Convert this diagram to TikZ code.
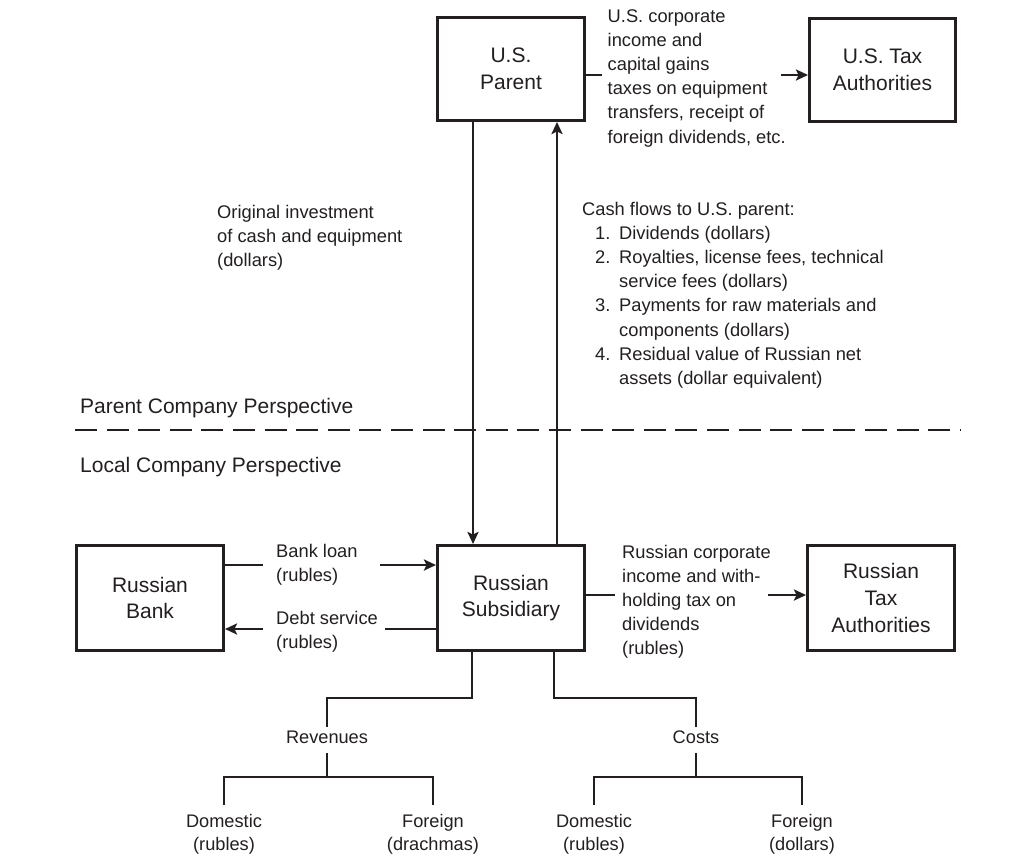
\documentclass[tikz,border=0pt]{standalone}
\usepackage{fontspec}
\setmainfont{Liberation Sans}
\usetikzlibrary{arrows.meta}
\definecolor{ink}{HTML}{231F20}
\begin{document}
\begin{tikzpicture}[x=1pt,y=-1pt,color=ink,
  box/.style={draw, line width=3pt, align=center, inner sep=0pt, font=\fontsize{21}{26.7}\selectfont},
  ln/.style={line width=2.5pt},
  arr/.style={ln, -{Stealth[length=12pt,width=11pt,inset=2.5pt]}},
  side/.style={anchor=base west, inner sep=0pt, font=\fontsize{18.3}{24.2}\selectfont},
  persp/.style={anchor=base west, inner sep=0pt, font=\fontsize{21}{26}\selectfont},
  tree/.style={align=center, inner sep=0pt, font=\fontsize{18.2}{23.5}\selectfont},
]
\fill[white] (0,0) rectangle (1017,865);
\useasboundingbox (0,0) rectangle (1017,865);

% boxes
\node[box, minimum width=147pt, minimum height=103pt] (parent) at (511,69) {U.S.\\Parent};
\node[box, minimum width=146pt, minimum height=103pt] (ustax) at (882.5,69.5) {U.S. Tax\\Authorities};
\node[box, minimum width=147pt, minimum height=105pt] (bank) at (150,598) {Russian\\Bank};
\node[box, minimum width=147pt, minimum height=105pt] (sub) at (511,598) {Russian\\Subsidiary};
\node[box, minimum width=147pt, minimum height=105pt] (rtax) at (881,598) {Russian\\Tax\\Authorities};

% side texts
\node[side] (ust) at (607.5,22) {\parbox[t]{200pt}{\raggedright U.S. corporate\\income and\\capital gains\\taxes on equipment\\transfers, receipt of\\foreign dividends, etc.}};
\node[side] (orig) at (217,218) {\parbox[t]{220pt}{\raggedright Original investment\\of cash and equipment\\(dollars)}};
\node[side] (cash) at (582,215) {\parbox[t]{330pt}{\raggedright Cash flows to U.S. parent:\\
\hspace*{13pt}\makebox[24pt][l]{1.}Dividends (dollars)\\
\hspace*{13pt}\makebox[24pt][l]{2.}Royalties, license fees, technical\\
\hspace*{37pt}service fees (dollars)\\
\hspace*{13pt}\makebox[24pt][l]{3.}Payments for raw materials and\\
\hspace*{37pt}components (dollars)\\
\hspace*{13pt}\makebox[24pt][l]{4.}Residual value of Russian net\\
\hspace*{37pt}assets (dollar equivalent)}};
\node[side] (rct) at (622,558) {\parbox[t]{200pt}{\raggedright Russian corporate\\income and with-\\holding tax on\\dividends\\(rubles)}};
\node[side] (loan) at (276,557.7) {\parbox[t]{120pt}{\raggedright Bank loan\\(rubles)}};
\node[side] (debt) at (276,624.3) {\parbox[t]{120pt}{\raggedright Debt service\\(rubles)}};

% perspectives
\node[persp] (pcp) at (80,413) {Parent Company Perspective};
\node[persp] (lcp) at (80,472) {Local Company Perspective};
\coordinate (dl) at (75,430);
\coordinate (dr) at (960,430);
\draw[ln, dash pattern=on 22pt off 9.6pt] (dl) -- (dr);

% parent <-> subsidiary
\coordinate (xd) at (473,0);
\coordinate (xu) at (557,0);
\draw[arr] (parent.south -| xd) -- (sub.north -| xd);
\draw[arr] (sub.north -| xu) -- (parent.south -| xu);

% tax flows
\coordinate (s1) at (602,75);
\coordinate (a1) at (781,75);
\draw[ln] (parent.east |- s1) -- (s1);
\draw[arr] (a1) -- (ustax.west |- a1);
\coordinate (s2) at (615,595);
\coordinate (a2) at (768,595);
\draw[ln] (sub.east |- s2) -- (s2);
\draw[arr] (a2) -- (rtax.west |- a2);

% bank flows
\coordinate (s3) at (263,565);
\coordinate (a3) at (380,565);
\draw[ln] (bank.east |- s3) -- (s3);
\draw[arr] (a3) -- (sub.west |- a3);
\coordinate (s4) at (385,629);
\coordinate (a4) at (263,629);
\draw[ln] (sub.west |- s4) -- (s4);
\draw[arr] (a4) -- (bank.east |- a4);

% tree
\node[tree, text height=13pt, text depth=7pt, inner ysep=3pt, anchor=base] (rev) at (327,743) {Revenues};
\node[tree, text height=13pt, text depth=7pt, inner ysep=3pt, anchor=base] (cost) at (696,743) {Costs};
\node[tree, inner ysep=9pt, anchor=north] (d1) at (224,805) {Domestic\\(rubles)};
\node[tree, inner ysep=9pt, anchor=north] (f1) at (433,805) {Foreign\\(drachmas)};
\node[tree, inner ysep=9pt, anchor=north] (d2) at (594,805) {Domestic\\(rubles)};
\node[tree, inner ysep=9pt, anchor=north] (f2) at (802,805) {Foreign\\(dollars)};

\coordinate (j1) at (472,698);
\coordinate (j2) at (554,698);
\draw[ln] (sub.south -| j1) -- (j1) -| (rev.north);
\draw[ln] (sub.south -| j2) -- (j2) -| (cost.north);
\coordinate (k1) at (327,777);
\coordinate (k2) at (696,777);
\draw[ln] (rev.south) -- (k1);
\draw[ln] (cost.south) -- (k2);
\draw[ln] (d1.north) -- (d1.north |- k1) -- (f1.north |- k1) -- (f1.north);
\draw[ln] (d2.north) -- (d2.north |- k2) -- (f2.north |- k2) -- (f2.north);
\end{tikzpicture}
\end{document}
